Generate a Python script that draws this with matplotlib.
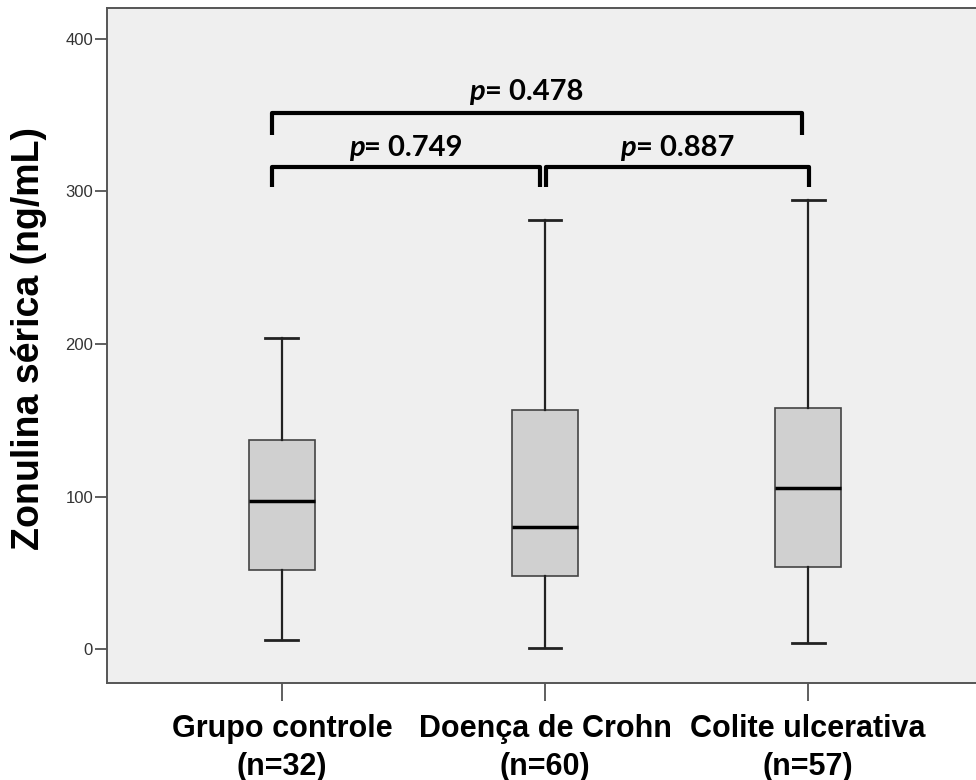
import matplotlib
matplotlib.use("Agg")
import matplotlib.pyplot as plt

categories = ["Grupo controle\n(n=32)", "Doença de Crohn\n(n=60)", "Colite ulcerativa\n(n=57)"]
whislo = [6, 1, 4.5]
q1 = [52, 48, 54]
med = [97, 80, 106]
q3 = [137, 157, 158]
whishi = [204, 281, 294]
yticks = [0, 100, 200, 300, 400]
pvalues = ["0.478", "0.749", "0.887"]

fig = plt.figure(figsize=(9.76, 7.8), dpi=100)
ax = fig.add_axes([107/976, 1-683/780, (983-107)/976, (683-8)/780])
ax.set_facecolor("#efefef")

stats = []
for i in range(3):
    stats.append(dict(whislo=whislo[i], q1=q1[i], med=med[i], q3=q3[i], whishi=whishi[i], fliers=[], label=categories[i]))

ax.bxp(stats, positions=[1, 2, 3], widths=0.25, patch_artist=True, showfliers=False,
       boxprops=dict(facecolor="#d0d0d0", edgecolor="#444444", linewidth=1.2),
       medianprops=dict(color="black", linewidth=2.5),
       whiskerprops=dict(color="#222222", linewidth=1.6),
       capprops=dict(color="#222222", linewidth=2.0))

ax.set_xlim(0.335, 3.665)
ax.set_ylim(-22, 420)
ax.set_yticks(yticks)
ax.set_yticklabels([str(t) for t in yticks], fontsize=12, color="#333333", family="Liberation Sans")
ax.tick_params(axis="y", length=9, width=1.2, color="#444444", pad=1)
ax.tick_params(axis="x", length=13, width=1.2, color="#444444", pad=9)
ax.set_xticks([1, 2, 3])
ax.set_xticklabels(categories, fontsize=22, fontweight="bold", family="Liberation Sans", linespacing=1.36)
for s in ["left", "bottom", "top", "right"]:
    ax.spines[s].set_color("#555555")
    ax.spines[s].set_linewidth(1.4)

ax.set_ylabel("Zonulina sérica (ng/mL)", fontsize=27, fontweight="bold", family="Liberation Sans")
ax.yaxis.set_label_coords(29/976 - 107/976, 0, transform=fig.transFigure)
ax.yaxis.label.set_position((29/976, 1 - 339/780))
ax.yaxis.label.set_verticalalignment("center")

def bracket(x0, x1, ytop, ybot, label, ytext, dx=0.0):
    ax.plot([x0, x0, x1, x1], [ybot, ytop, ytop, ybot], color="black", lw=3, solid_joinstyle="round", solid_capstyle="butt")
    xc = (x0+x1)/2 + dx
    t1 = ax.text(xc, ytext, "p", ha="right", va="center", fontsize=21, fontweight="bold", style="italic", family="Lato", color="black")
    t2 = ax.text(xc, ytext, "= " + label, ha="left", va="center", fontsize=21, fontweight="bold", family="Lato", color="black")
    return t1, t2

texts = []
texts.append(bracket(0.962, 2.977, 351, 337, pvalues[0], 365, dx=-0.04))
texts.append(bracket(0.962, 1.98, 316, 303, pvalues[1], 328))
texts.append(bracket(2.003, 3.004, 316, 303, pvalues[2], 328))

# center the combined "p= value" text
fig.canvas.draw()
r = fig.canvas.get_renderer()
inv = ax.transData.inverted()
for t1, t2 in texts:
    b1 = t1.get_window_extent(r)
    b2 = t2.get_window_extent(r)
    total = b1.width + b2.width
    xc_pix = ax.transData.transform((t1.get_position()[0], 0))[0]
    left = xc_pix - total/2
    x_split = inv.transform((left + b1.width, 0))[0]
    t1.set_x(x_split)
    t2.set_x(x_split)

fig.savefig("out.png", dpi=100)
